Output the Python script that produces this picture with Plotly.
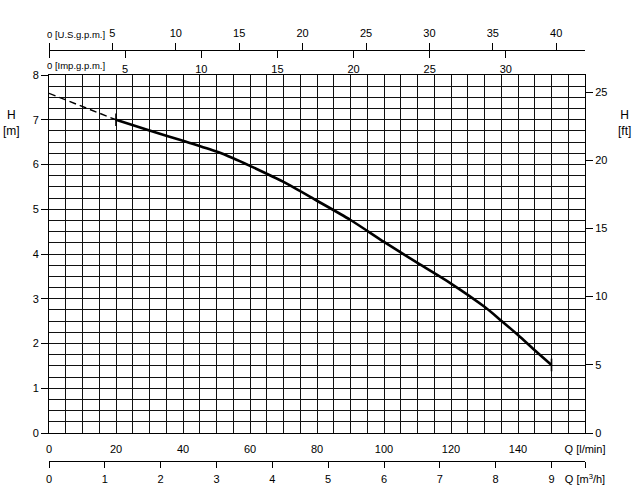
import plotly.graph_objects as go

# ---- data ----
q_dashed = [0, 20]
h_dashed = [7.59, 7.0]
q_curve = [20, 30, 40, 50, 55, 60, 70, 80, 90, 100, 110, 120, 130, 135, 140, 145, 150]
h_curve = [7.0, 6.76, 6.53, 6.29, 6.14, 5.97, 5.61, 5.19, 4.76, 4.27, 3.80, 3.34, 2.82, 2.51, 2.19, 1.85, 1.52]

q_ticks = [0, 20, 40, 60, 80, 100, 120, 140, 160]
q_ticktext = ["0", "20", "40", "60", "80", "100", "120", "140", "Q [l/min]"]
m3h_ticks = [0, 1, 2, 3, 4, 5, 6, 7, 8, 9, 9.6]
m3h_ticktext = ["0", "1", "2", "3", "4", "5", "6", "7", "8", "9", "Q [m<sup>3</sup>/h]"]
usgpm_ticks = [0, 5, 10, 15, 20, 25, 30, 35, 40]
impgpm_ticks = [0, 5, 10, 15, 20, 25, 30]
hm_ticks = [0, 1, 2, 3, 4, 5, 6, 7, 8]
hft_ticks = [0, 5, 10, 15, 20, 25]

Q_MAX = 160
H_MAX = 8
US_GAL = 3.78541
IMP_GAL = 4.54609
FT = 3.28084

W, H = 636, 501
L, R, T, B = 49, 51, 0, 0
plot_top, plot_bot = 75, 433
top_line = 50
m3h_line = 461

def py(p):
    return (H - p) / H

def px(p):
    return (p - L) / (W - L - R)

FONT = "Liberation Sans"
fs = 11

fig = go.Figure()
fig.add_trace(go.Scatter(x=q_dashed, y=h_dashed, mode="lines",
                         line=dict(color="black", width=1.4, dash="7px,4px"),
                         hoverinfo="skip", showlegend=False))
fig.add_trace(go.Scatter(x=q_curve, y=h_curve, mode="lines",
                         line=dict(color="black", width=2.6, shape="spline", smoothing=0.8),
                         hoverinfo="skip", showlegend=False))
fig.add_trace(go.Scatter(x=[q_curve[0], q_curve[-1]], y=[h_curve[0], h_curve[-1]], mode="markers",
                         marker=dict(symbol="line-ns", size=9, line=dict(color="black", width=1.6)),
                         hoverinfo="skip", showlegend=False))
# invisible traces to activate the extra axes
for xa in ["x2", "x3", "x4"]:
    fig.add_trace(go.Scatter(x=[0], y=[0], xaxis=xa, yaxis="y", mode="markers",
                             marker=dict(opacity=0), hoverinfo="skip", showlegend=False))
fig.add_trace(go.Scatter(x=[0], y=[0], xaxis="x", yaxis="y2", mode="markers",
                         marker=dict(opacity=0), hoverinfo="skip", showlegend=False))

ydom = [py(plot_bot), py(plot_top)]
gridc = "#111111"

fig.update_layout(
    width=W, height=H,
    margin=dict(l=L, r=R, t=T, b=B, pad=0),
    paper_bgcolor="white", plot_bgcolor="white",
    font=dict(family=FONT, size=fs, color="black"),
    xaxis=dict(range=[0, Q_MAX], domain=[0, 1], anchor="y",
               tickvals=q_ticks, ticktext=q_ticktext, ticks="", ticklabelstandoff=6,
               showgrid=True, gridcolor=gridc, gridwidth=1,
               minor=dict(dtick=5, tick0=0, showgrid=True, gridcolor=gridc, gridwidth=1, ticks=""),
               showline=True, linecolor="black", linewidth=1, mirror=True,
               zeroline=False, automargin=False, fixedrange=True),
    yaxis=dict(range=[0, H_MAX], domain=ydom, anchor="x",
               tickvals=hm_ticks, ticks="outside", ticklen=7, tickcolor="black",
               showgrid=True, gridcolor=gridc, gridwidth=1,
               minor=dict(dtick=0.25, tick0=0, showgrid=True, gridcolor=gridc, gridwidth=1, ticks=""),
               showline=True, linecolor="black", linewidth=1, mirror=True,
               zeroline=False, automargin=False, fixedrange=True),
    yaxis2=dict(range=[0, H_MAX * FT], overlaying="y", side="right", anchor="x",
                tickvals=hft_ticks, ticks="outside", ticklen=7, tickcolor="black",
                showgrid=False, showline=True, linecolor="black", linewidth=1,
                zeroline=False, automargin=False, fixedrange=True),
    xaxis2=dict(range=[0, Q_MAX / US_GAL], overlaying="x", side="top", anchor="free",
                position=py(top_line),
                tickvals=usgpm_ticks, ticktext=[""] + [str(v) for v in usgpm_ticks[1:]],
                ticks="outside", ticklen=7, tickcolor="black", ticklabelstandoff=2,
                showgrid=False, showline=True, linecolor="black", linewidth=1,
                zeroline=False, automargin=False, fixedrange=True),
    xaxis3=dict(range=[0, Q_MAX / IMP_GAL], overlaying="x", side="bottom", anchor="free",
                position=py(top_line),
                tickvals=impgpm_ticks, ticktext=[""] + [str(v) for v in impgpm_ticks[1:]],
                ticks="outside", ticklen=7, tickcolor="black", ticklabelstandoff=2,
                showgrid=False, showline=True, linecolor="black", linewidth=1,
                zeroline=False, automargin=False, fixedrange=True),
    xaxis4=dict(range=[0, Q_MAX / (1000 / 60)], overlaying="x", side="bottom", anchor="free",
                position=py(m3h_line),
                tickvals=m3h_ticks, ticktext=m3h_ticktext,
                ticks="outside", ticklen=6, tickcolor="black", ticklabelstandoff=2,
                showgrid=False, showline=True, linecolor="black", linewidth=1,
                zeroline=False, automargin=False, fixedrange=True),
    annotations=[
        dict(text="0 [U.S.g.p.m.]", xref="paper", yref="paper", x=px(45), y=py(34),
             xanchor="left", yanchor="middle", showarrow=False, font=dict(size=9.5)),
        dict(text="0 [Imp.g.p.m.]", xref="paper", yref="paper", x=px(45), y=py(65),
             xanchor="left", yanchor="middle", showarrow=False, font=dict(size=9.5)),
        dict(text="H<br>[m]", xref="paper", yref="paper", x=px(11), y=py(123),
             xanchor="center", yanchor="middle", showarrow=False, font=dict(size=12)),
        dict(text="H<br>[ft]", xref="paper", yref="paper", x=px(624), y=py(123),
             xanchor="center", yanchor="middle", showarrow=False, font=dict(size=12)),
    ],
)

fig.write_html("out.html", config={"displayModeBar": False},
               post_script="document.body.style.margin='0px';")
